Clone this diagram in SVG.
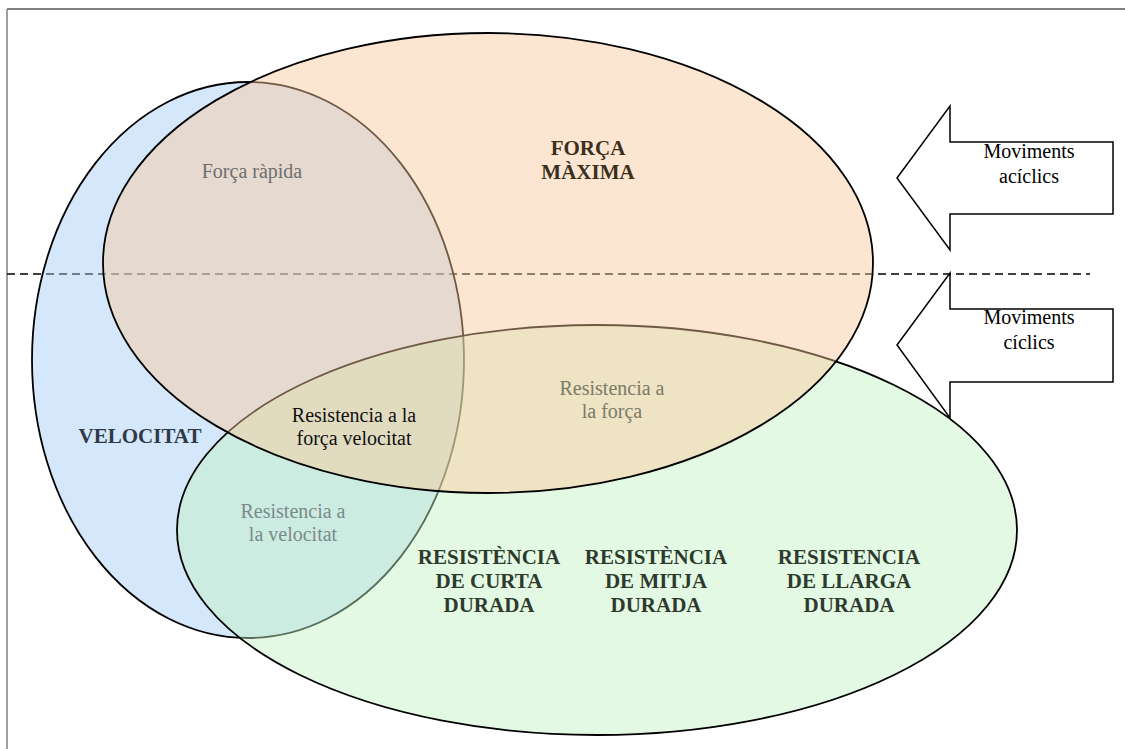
<svg xmlns="http://www.w3.org/2000/svg" width="1125" height="749" viewBox="0 0 1125 749">
  <style>
    .ell { stroke: #000; stroke-width: 1.8; fill-opacity: 0.45; }
    .arrow { fill: #fff; stroke: #000; stroke-width: 1.5; stroke-linejoin: miter; }
    .t { font-family: 'Liberation Serif', 'DejaVu Serif', serif; font-size: 20px; text-anchor: middle; }
    .bold { font-weight: bold; font-size: 21px; }
  </style>
  <rect width="1125" height="749" fill="#fff"/>
  <line x1="7" y1="9" x2="1125" y2="9" stroke="#000" stroke-width="1"/>
  <line x1="7" y1="9" x2="7" y2="749" stroke="#808080" stroke-width="1.5"/>
  <g id="connectors">
    <line x1="7" y1="274" x2="1090" y2="274" stroke="#000" stroke-width="1.5" stroke-dasharray="8,5"/>
  </g>
  <g id="velocitat">
    <ellipse class="ell" cx="248" cy="360" rx="216" ry="278" fill="#a1c9f7"/>
  </g>
  <g id="resistencia">
    <ellipse class="ell" cx="597" cy="530" rx="420" ry="205" fill="#c1f1c1"/>
  </g>
  <g id="forca">
    <ellipse class="ell" cx="488" cy="263" rx="385" ry="230" fill="#fbc799"/>
  </g>
  <g id="arrow-aciclics">
    <polygon class="arrow" points="897,178 950,106 950,142 1113,142 1113,214 950,214 950,250"/>
    <text class="t" x="1029" y="158">Moviments</text>
    <text class="t" x="1029" y="183">acíclics</text>
  </g>
  <g id="arrow-ciclics">
    <polygon class="arrow" points="897,345 950,273 950,309 1113,309 1113,382 950,382 950,418"/>
    <text class="t" x="1029" y="324">Moviments</text>
    <text class="t" x="1029" y="349">cíclics</text>
  </g>
  <g id="labels">
    <text class="t" x="252" y="178" fill="#6e6e6e">Força ràpida</text>
    <text class="t bold" x="588" y="155" fill="#3a3020">FORÇA</text>
    <text class="t bold" x="588" y="179" fill="#3a3020">MÀXIMA</text>
    <text class="t bold" x="140" y="443" fill="#2e3a48">VELOCITAT</text>
    <text class="t" x="354" y="422" fill="#111">Resistencia a la</text>
    <text class="t" x="354" y="445" fill="#111">força velocitat</text>
    <text class="t" x="612" y="395" fill="#7a7a6a">Resistencia a</text>
    <text class="t" x="612" y="418" fill="#7a7a6a">la força</text>
    <text class="t" x="293" y="518" fill="#7a8a8a">Resistencia a</text>
    <text class="t" x="293" y="541" fill="#7a8a8a">la velocitat</text>
    <text class="t bold" x="489" y="564" fill="#2e3a2e">RESISTÈNCIA</text>
    <text class="t bold" x="489" y="588" fill="#2e3a2e">DE CURTA</text>
    <text class="t bold" x="489" y="612" fill="#2e3a2e">DURADA</text>
    <text class="t bold" x="656" y="564" fill="#2e3a2e">RESISTÈNCIA</text>
    <text class="t bold" x="656" y="588" fill="#2e3a2e">DE MITJA</text>
    <text class="t bold" x="656" y="612" fill="#2e3a2e">DURADA</text>
    <text class="t bold" x="849" y="564" fill="#2e3a2e">RESISTENCIA</text>
    <text class="t bold" x="849" y="588" fill="#2e3a2e">DE LLARGA</text>
    <text class="t bold" x="849" y="612" fill="#2e3a2e">DURADA</text>
  </g>
</svg>
